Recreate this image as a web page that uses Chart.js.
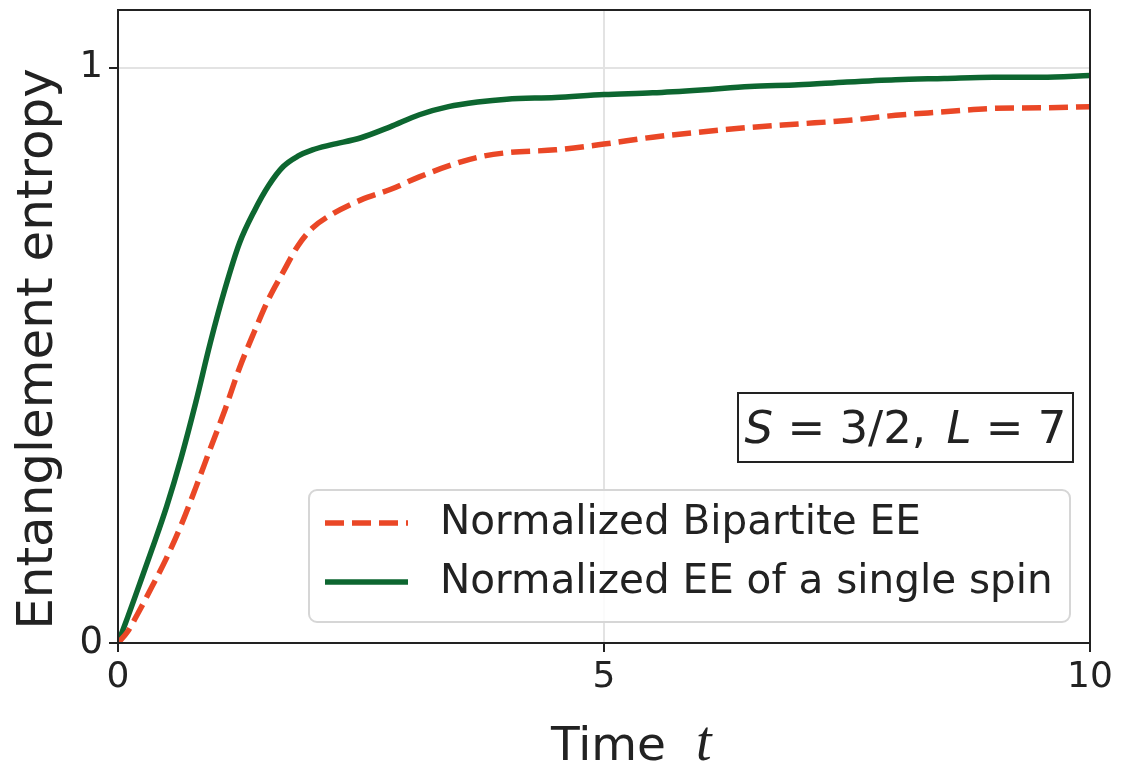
<!DOCTYPE html>
<html>
<head>
<meta charset="utf-8">
<script src="https://cdn.jsdelivr.net/npm/chart.js@4.4.1/dist/chart.umd.min.js"></script>
<style>
  html, body { margin: 0; padding: 0; background: #fff; }
  canvas { display: block; }
</style>
</head>
<body>
<canvas id="eeChart" width="1121" height="767"></canvas>
<script>
// time grid (shared by both curves)
const times = [0, 0.1, 0.2, 0.35, 0.5, 0.65, 0.8, 0.95, 1.1, 1.25, 1.4, 1.55, 1.7, 1.85, 2.0,
  2.2, 2.5, 2.8, 3.1, 3.4, 3.7, 4.0, 4.5, 5.0, 5.5, 6.0, 6.5, 7.0, 7.5, 8.0, 8.5, 9.0, 9.5, 10];

// normalized bipartite EE (dashed)
const bipartiteEE = [0, 0.02, 0.05, 0.098, 0.148, 0.205, 0.27, 0.338, 0.405, 0.478, 0.54, 0.598, 0.645, 0.69, 0.721,
  0.745, 0.77, 0.788, 0.81, 0.829, 0.844, 0.852, 0.857, 0.867, 0.879, 0.888, 0.896, 0.902, 0.908, 0.917, 0.923, 0.929, 0.93, 0.932];

// normalized EE of a single spin (solid)
const singleSpinEE = [0, 0.045, 0.092, 0.163, 0.237, 0.322, 0.418, 0.522, 0.615, 0.695, 0.75, 0.795, 0.828, 0.846, 0.857,
  0.866, 0.878, 0.897, 0.918, 0.932, 0.94, 0.945, 0.948, 0.953, 0.956, 0.961, 0.967, 0.97, 0.975, 0.979, 0.981, 0.983, 0.983, 0.986];

const xTicks = [0, 5, 10];
const yTicks = [0, 1];
const seriesLabels = ['Normalized Bipartite EE', 'Normalized EE of a single spin'];
const yTitle = 'Entanglement entropy';

const FONT = '"DejaVu Sans", sans-serif';
const INK = '#222';

const toPoints = (ys) => times.map((t, i) => ({ x: t, y: ys[i] }));

// frame on all four sides
const framePlugin = {
    id: 'frame',
    afterDatasetsDraw(chart) {
        const { ctx, chartArea: a } = chart;
        ctx.save();
        ctx.strokeStyle = INK;
        ctx.lineWidth = 2;
        ctx.strokeRect(a.left, a.top, a.right - a.left, a.bottom - a.top);
        ctx.restore();
    }
};

// legend box inside the plot, built from the datasets
const boxLegend = {
    id: 'boxLegend',
    afterDraw(chart) {
        const { ctx } = chart;
        const x0 = 309, y0 = 490, w = 761, h = 132, r = 8;
        ctx.save();
        ctx.beginPath();
        ctx.roundRect(x0, y0, w, h, r);
        ctx.fillStyle = 'rgba(255,255,255,0.85)';
        ctx.fill();
        ctx.strokeStyle = '#d6d6d6';
        ctx.lineWidth = 2;
        ctx.stroke();
        const rows = [523, 582];
        chart.data.datasets.forEach((ds, i) => {
            const yy = rows[i];
            ctx.beginPath();
            ctx.setLineDash(ds.borderDash || []);
            ctx.strokeStyle = ds.borderColor;
            ctx.lineWidth = ds.borderWidth;
            ctx.moveTo(325, yy);
            ctx.lineTo(408, yy);
            ctx.stroke();
            ctx.setLineDash([]);
            ctx.fillStyle = INK;
            ctx.font = '40.5px ' + FONT;
            ctx.textBaseline = 'middle';
            ctx.textAlign = 'left';
            ctx.fillText(ds.label, 440, yy);
        });
        ctx.restore();
    }
};

// parameter box and axis titles (math-style italics)
const textBits = {
    id: 'textBits',
    afterDraw(chart) {
        const { ctx } = chart;
        ctx.save();
        // S = 3/2, L = 7
        const bx = 738, by = 393, bw = 335, bh = 69;
        ctx.fillStyle = '#fff';
        ctx.fillRect(bx, by, bw, bh);
        ctx.strokeStyle = INK;
        ctx.lineWidth = 2;
        ctx.strokeRect(bx, by, bw, bh);
        const parts = [
            ['S', 'italic 45px ' + FONT, 0],
            [' = 3/2, ', '45px ' + FONT, 6],
            ['L', 'italic 45px ' + FONT, 0],
            [' = 7', '45px ' + FONT, 0]
        ];
        let total = 0;
        parts.forEach(p => { ctx.font = p[1]; total += ctx.measureText(p[0]).width + p[2]; });
        let cx = bx + (bw - total) / 2;
        ctx.fillStyle = INK;
        ctx.textBaseline = 'alphabetic';
        ctx.textAlign = 'left';
        parts.forEach(p => {
            ctx.font = p[1];
            ctx.fillText(p[0], cx, by + 50);
            cx += ctx.measureText(p[0]).width + p[2];
        });

        // x title: Time t
        const tParts = [
            ['Time  ', '47px ' + FONT],
            ['t', 'italic 56px "Liberation Serif", serif']
        ];
        cx = 551;
        tParts.forEach(p => {
            ctx.font = p[1];
            ctx.fillText(p[0], cx, 760);
            cx += ctx.measureText(p[0]).width;
        });

        // y title
        ctx.translate(52, 349);
        ctx.rotate(-Math.PI / 2);
        ctx.font = '50px ' + FONT;
        ctx.textAlign = 'center';
        ctx.fillText(yTitle, 0, 0);
        ctx.restore();
    }
};

const ctx = document.getElementById('eeChart').getContext('2d');
const eeChart = new Chart(ctx, {
    type: 'line',
    data: {
        datasets: [
            {
                label: seriesLabels[0],
                data: toPoints(bipartiteEE),
                borderColor: '#ea4726',
                borderWidth: 5.5,
                borderDash: [19, 8],
                pointRadius: 0,
                cubicInterpolationMode: 'monotone',
                fill: false
            },
            {
                label: seriesLabels[1],
                data: toPoints(singleSpinEE),
                borderColor: '#0d6630',
                borderWidth: 5.5,
                pointRadius: 0,
                cubicInterpolationMode: 'monotone',
                fill: false
            }
        ]
    },
    options: {
        responsive: false,
        animation: false,
        devicePixelRatio: 1,
        layout: { padding: { top: 10, right: 31, left: 0, bottom: 0 } },
        plugins: {
            legend: { display: false },
            tooltip: { enabled: false }
        },
        scales: {
            x: {
                type: 'linear',
                min: 0,
                max: 10,
                afterBuildTicks: (scale) => { scale.ticks = xTicks.map(v => ({ value: v })); },
                afterFit: (scale) => { scale.height = 124; scale.paddingLeft = 0; scale.paddingRight = 0; },
                ticks: {
                    color: INK,
                    font: { family: FONT, size: 36 },
                    padding: 4,
                    maxRotation: 0
                },
                grid: {
                    color: '#e3e3e3',
                    lineWidth: 2,
                    tickColor: INK,
                    tickLength: 9
                },
                border: { color: INK, width: 2 }
            },
            y: {
                type: 'linear',
                min: 0,
                max: 1.1,
                afterBuildTicks: (scale) => { scale.ticks = yTicks.map(v => ({ value: v })); },
                afterFit: (scale) => { scale.width = 118; scale.paddingTop = 0; scale.paddingBottom = 0; },
                ticks: {
                    color: INK,
                    font: { family: FONT, size: 37 },
                    padding: 6
                },
                grid: {
                    color: '#e3e3e3',
                    lineWidth: 2,
                    tickColor: INK,
                    tickLength: 9
                },
                border: { color: INK, width: 2 }
            }
        }
    },
    plugins: [framePlugin, boxLegend, textBits]
});
</script>
</body>
</html>
